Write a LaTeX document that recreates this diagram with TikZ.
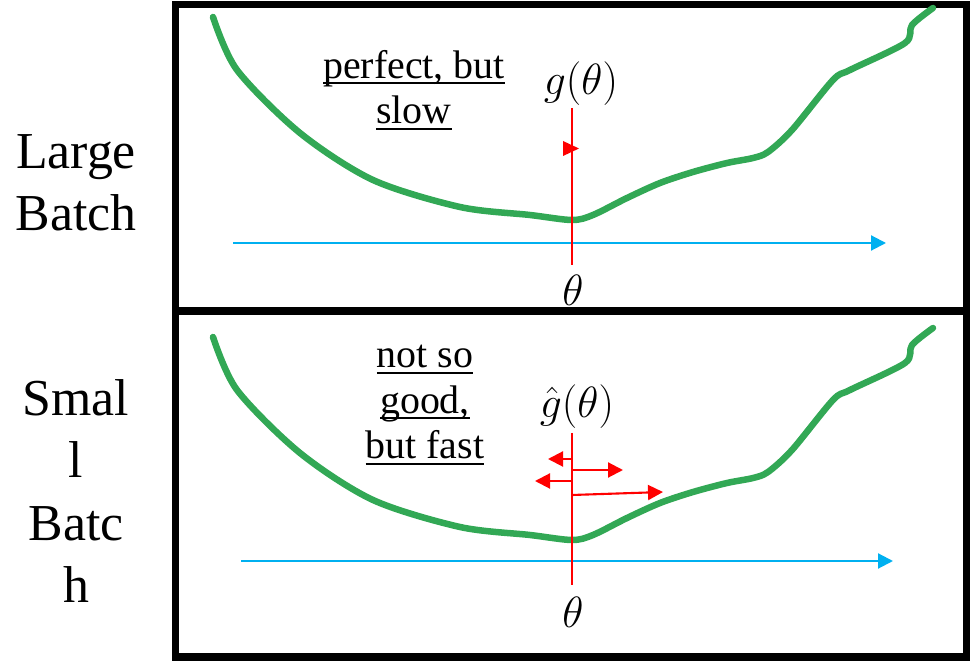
\documentclass[tikz,border=0pt]{standalone}
\usepackage{fontspec}
\setmainfont{Liberation Serif}
\usetikzlibrary{arrows.meta, positioning}
\definecolor{lossgreen}{RGB}{50,168,85}
\definecolor{axisblue}{RGB}{0,176,240}
\newcommand{\ulword}[1]{\setbox0\hbox{#1}\rlap{\rule[-0.16em]{\wd0}{1.1pt}}\box0}
\newcommand{\losscurve}{plot[smooth, tension=0.5] coordinates {(213,17) (237,70) (300,133) (373,180) (460,207) (530,215) (572,220) (593,215) (627,198) (660,183) (693,172) (727,163) (753,158) (768,152) (792,130) (833,80) (850,70) (905,43) (912,25) (933,8)}}

\begin{document}
\begin{tikzpicture}[
    x=0.02cm, y=-0.02cm,
    panel/.style={draw, line width=4pt},
    side/.style={align=center, font=\fontsize{29.5}{35.5}\selectfont},
    note/.style={align=center, font=\fontsize{22.7}{26}\selectfont},
    sym/.style={font=\fontsize{24}{28}\selectfont, inner sep=1pt},
    loss/.style={lossgreen, line width=3.7pt, line cap=round, line join=round},
    axis/.style={axisblue, line width=1.2pt, -{Triangle[length=0.3cm, width=0.3cm]}},
    probe/.style={red, line width=1.2pt},
    grad/.style={red, line width=1.2pt, -{Triangle[length=0.3cm, width=0.3cm]}}
]
\useasboundingbox (0,0) rectangle (970,661);

\draw[panel] (175.5,4.5) rectangle (966.5,311);
\draw[panel] (175.5,311) rectangle (966.5,657);

\node[side] (large) at (76,183) {Large\\Batch};
\node[side] (small) at (76,491) {Smal\\l\\Batc\\h};

\draw[loss] \losscurve;
\begin{scope}[shift={(0,320)}]
\draw[loss] \losscurve;
\end{scope}

\node[note] (perfect) at (414,90) {\ulword{perfect, but}\\\ulword{slow}};
\node[note] (notso) at (425,405) {\ulword{not so}\\\ulword{good,}\\\ulword{but fast}};

\coordinate (axis1s) at (233,243);
\coordinate (axis1e) at (886,243);
\coordinate (axis2s) at (241,561);
\coordinate (axis2e) at (893,561);
\draw[axis] (axis1s) -- (axis1e);
\draw[axis] (axis2s) -- (axis2e);

\node[sym] (g1) at (581,84) {$g(\theta)$};
\node[sym] (g2) at (577,407) {$\hat{g}(\theta)$};
\node[sym] (th1) at (573,290) {$\theta$};
\node[sym] (th2) at (573,612) {$\theta$};

\coordinate (p1top) at (572,108);
\coordinate (p1bot) at (572,265);
\coordinate (p2top) at (572,433);
\coordinate (p2bot) at (572,585);
\draw[probe] (p1top) -- (p1bot);
\draw[probe] (p2top) -- (p2bot);

\fill[red] (563,141) -- (579,148.5) -- (563,156) -- cycle;

\draw[grad] (572,459) -- (548,459);
\draw[grad] (572,470) -- (623,470);
\draw[grad] (572,481) -- (535,481);
\draw[grad] (572,495) -- (663,492);
\end{tikzpicture}
\end{document}
